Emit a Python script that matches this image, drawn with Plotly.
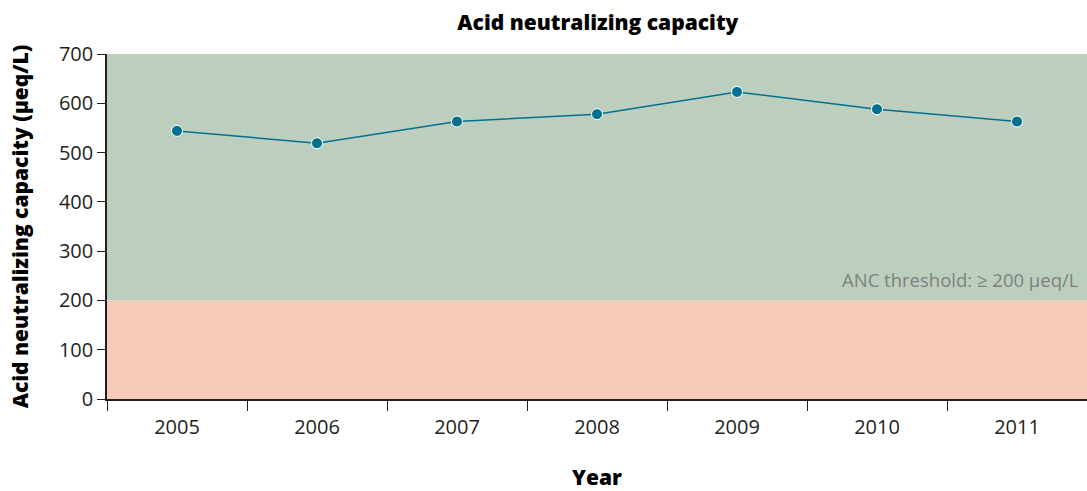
import plotly.graph_objects as go

# ANC by year
years = ["2005", "2006", "2007", "2008", "2009", "2010", "2011"]
anc = [544, 519, 563, 578, 623, 588, 563]
threshold = 200
y_max = 700

FONT = "Open Sans, Noto Sans, sans-serif"
TEXT = "#231f20"

fig = go.Figure()

fig.add_trace(go.Scatter(
    x=years,
    y=anc,
    mode="lines+markers",
    line=dict(color="#00708f", width=1.5),
    marker=dict(size=11, color="#00708f", line=dict(color="white", width=1)),
    showlegend=False,
    hovertemplate="Year : %{x}, ANC : %{y} <extra></extra>"
))

# background bands: below / above threshold
fig.add_shape(type="rect", xref="paper", yref="y", x0=0, x1=1, y0=0, y1=threshold,
              fillcolor="#f8cab8", line_width=0, layer="below")
fig.add_shape(type="rect", xref="paper", yref="y", x0=0, x1=1, y0=threshold, y1=y_max,
              fillcolor="#bccfbf", line_width=0, layer="below")

fig.add_annotation(
    x=0.994, y=threshold, xref="paper", yref="y",
    xanchor="right", yanchor="bottom", yshift=6,
    text="ANC threshold: \u2265 200 \u00b5eq/L",
    showarrow=False,
    font=dict(family=FONT, size=18.5, color="#7f7f7f")
)

fig.update_layout(
    width=1087, height=491,
    margin=dict(l=107, r=0, t=54, b=92),
    paper_bgcolor="white",
    plot_bgcolor="white",
    font=dict(family=FONT, size=20, color=TEXT),
    title=dict(text="Acid neutralizing capacity", x=0.55, xanchor="center",
               y=0.953, yanchor="middle",
               font=dict(size=21, color="black", weight=800)),
)

fig.update_xaxes(
    type="category",
    range=[-0.5, len(years) - 0.5],
    tickson="boundaries",
    ticks="outside", ticklen=10, tickcolor=TEXT, tickwidth=1,
    ticklabelstandoff=9,
    showline=True, linecolor=TEXT, linewidth=1.5,
    showgrid=False,
    title=dict(text="Year", standoff=38, font=dict(size=21, color="black", weight=800)),
    tickfont=dict(size=20, color=TEXT),
)

fig.update_yaxes(
    range=[0, y_max],
    tickvals=[0, 100, 200, 300, 400, 500, 600, 700],
    ticks="outside", ticklen=8, tickcolor=TEXT, tickwidth=1,
    showline=True, linecolor=TEXT, linewidth=1.5,
    showgrid=False, zeroline=False,
    title=dict(text="Acid neutralizing capacity (\u00b5eq/L)", standoff=25,
               font=dict(size=21, color="black", weight=800)),
    tickfont=dict(size=20, color=TEXT),
)

fig.write_html("out.html", config={"displayModeBar": False},
               post_script="document.body.style.margin='0';")
